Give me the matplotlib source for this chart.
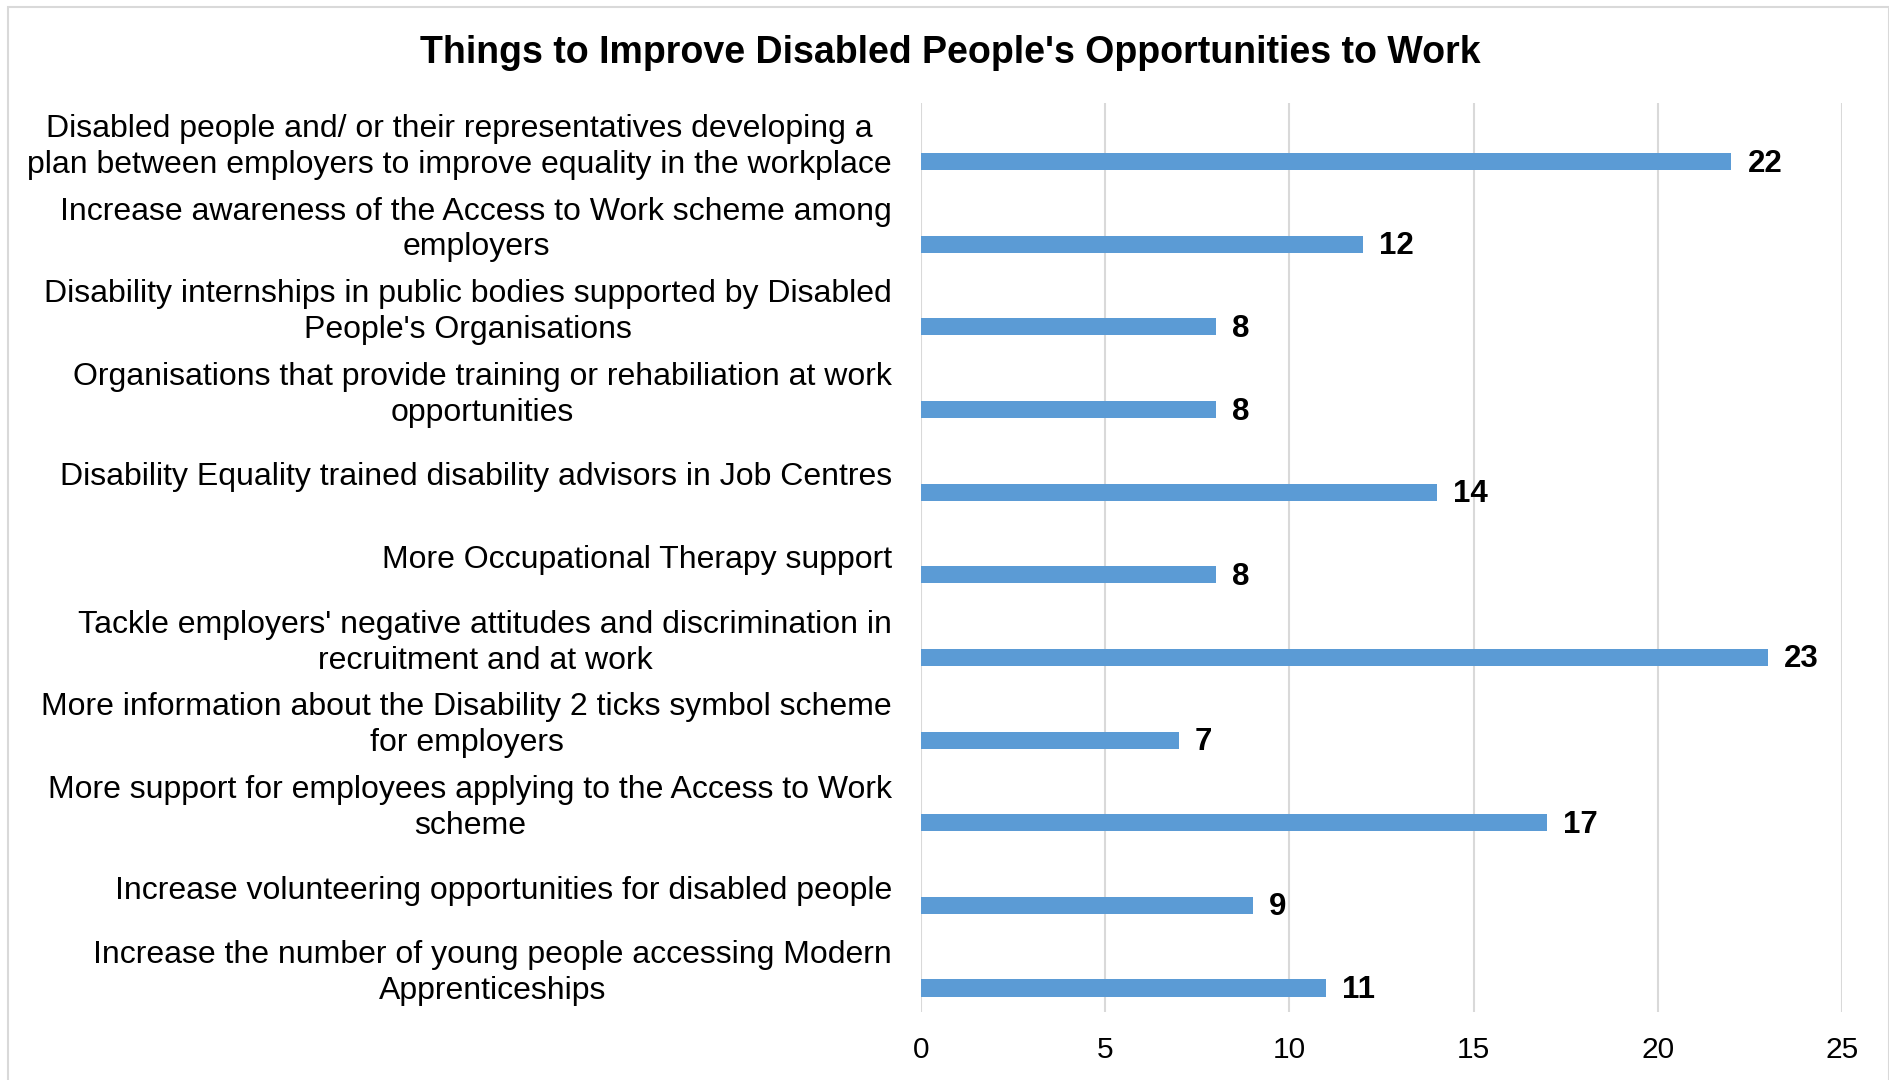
import matplotlib
matplotlib.use("Agg")
import matplotlib.pyplot as plt
from matplotlib.patches import Rectangle

categories = [
    "Disabled people and/ or their representatives developing a\nplan between employers to improve equality in the workplace",
    "Increase awareness of the Access to Work scheme among\nemployers",
    "Disability internships in public bodies supported by Disabled\nPeople's Organisations",
    "Organisations that provide training or rehabiliation at work\nopportunities",
    "Disability Equality trained disability advisors in Job Centres",
    "More Occupational Therapy support",
    "Tackle employers' negative attitudes and discrimination in\nrecruitment and at work",
    "More information about the Disability 2 ticks symbol scheme\nfor employers",
    "More support for employees applying to the Access to Work\nscheme",
    "Increase volunteering opportunities for disabled people",
    "Increase the number of young people accessing Modern\nApprenticeships",
]
values = [22, 12, 8, 8, 14, 8, 23, 7, 17, 9, 11]
x_ticks = [0, 5, 10, 15, 20, 25]
title = "Things to Improve Disabled People's Opportunities to Work"

plt.rcParams["font.family"] = ["Liberation Sans", "DejaVu Sans"]

fig = plt.figure(figsize=(18.9, 10.8), dpi=100)
ax = fig.add_axes([0.4873, 0.063, 0.4873, 0.8416])

bar_color = "#5B9BD5"
grid_color = "#D9D9D9"
offset = 0.21
n = len(categories)
pos = [i + offset for i in range(n)]
ax.barh(pos, values, height=0.206, color=bar_color, zorder=3)

# value labels at the end of each bar
for p, v in zip(pos, values):
    ax.annotate(str(v), (v, p), xytext=(16, -2), textcoords="offset pixels",
                ha="left", va="center", fontsize=22.5, fontweight="bold", color="black")

# category labels, right-aligned against the plot, centred line by line
for i, cat in enumerate(categories):
    ax.annotate(cat, (0, i), xycoords=("axes fraction", "data"),
                xytext=(-29, -2.5), textcoords="offset pixels",
                ha="right", va="center", multialignment="center",
                linespacing=1.25, fontsize=23, color="black")

ax.set_xlim(0, 25)
ax.set_ylim(n - 0.5, -0.5)
ax.set_xticks(x_ticks)
ax.set_xticklabels([str(t) for t in x_ticks], fontsize=21.5, color="black")
ax.set_yticks([])
ax.tick_params(axis="x", length=0, pad=17)
ax.grid(axis="x", color=grid_color, linewidth=1.5, zorder=0)
for s in ax.spines.values():
    s.set_visible(False)

fig.text(0.5026, 0.951, title, ha="center", va="center",
         fontsize=27, fontweight="bold", color="black")

fig.patches.append(Rectangle((8 / 1890, -0.01), 1881 / 1890, 1 - 7 / 1080 + 0.01,
                             transform=fig.transFigure, fill=False,
                             edgecolor="#D9D9D9", linewidth=1.5))

fig.savefig("out.png", dpi=100)
